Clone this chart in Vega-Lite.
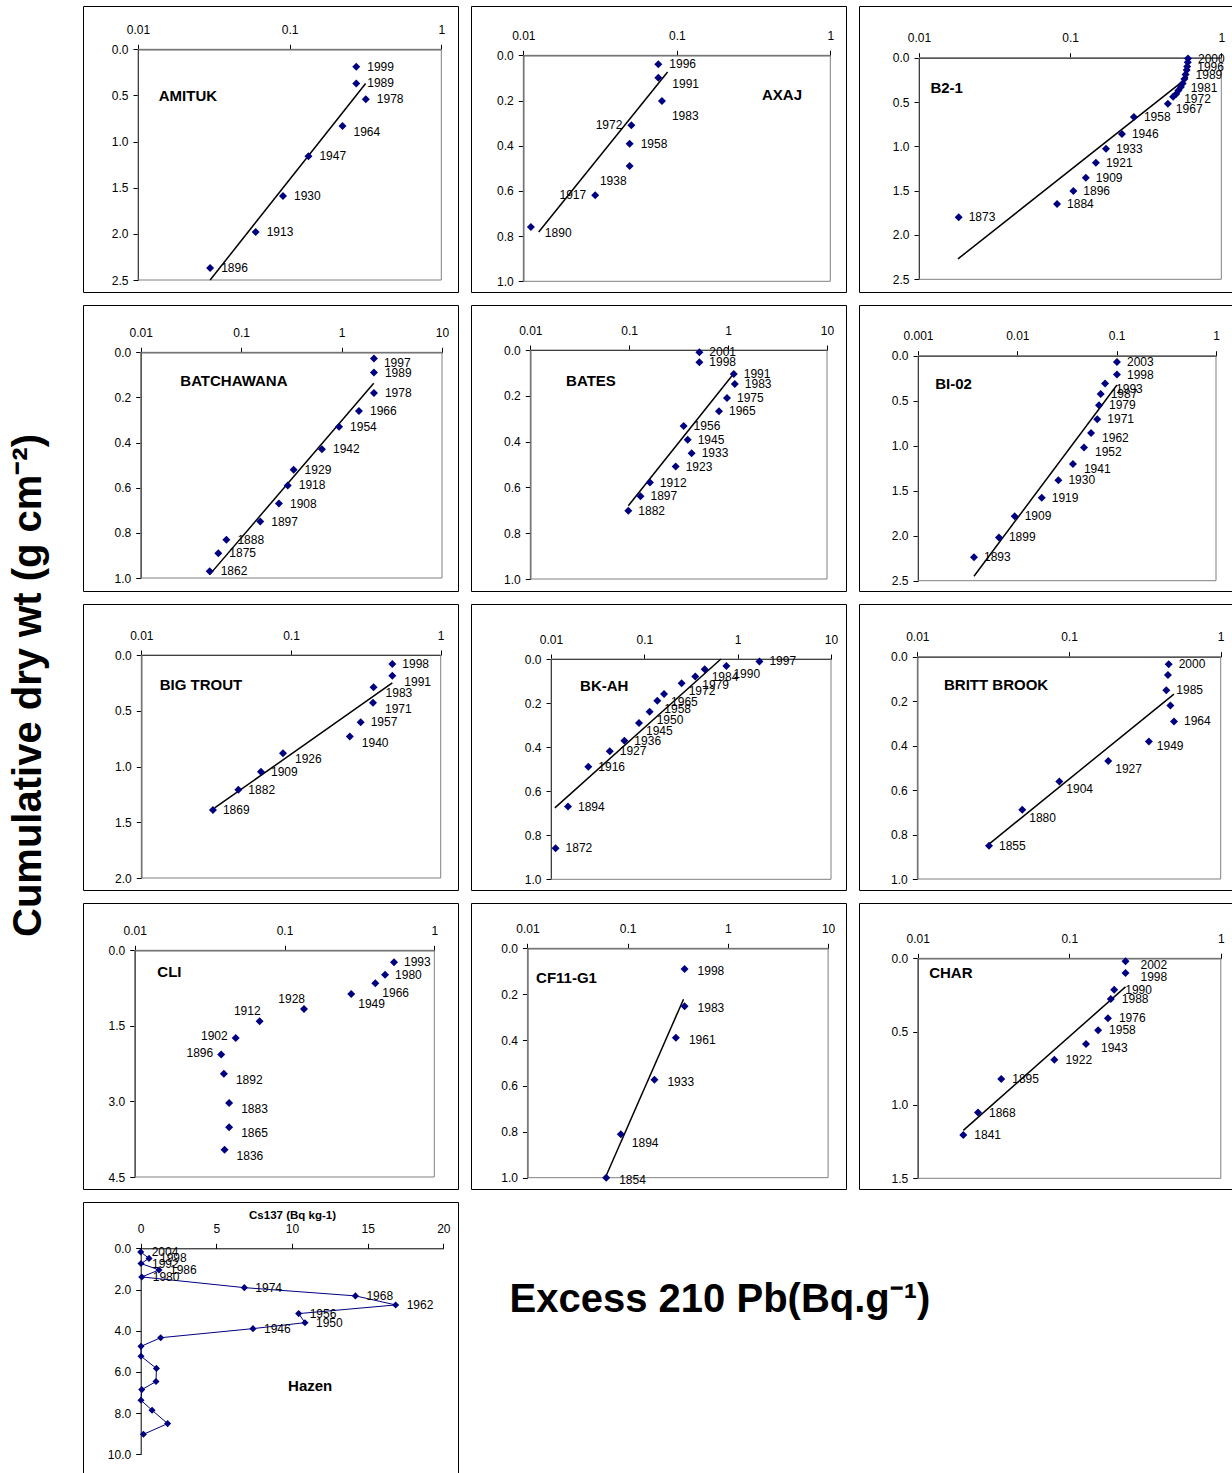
{
  "$schema": "https://vega.github.io/schema/vega-lite/v6.json",
  "padding": {"left": 0, "top": 5, "right": 0, "bottom": 0},
  "background": "white",
  "spacing": 24,
  "config": {
    "font": "Liberation Sans",
    "view": {"stroke": "#000000", "strokeWidth": 1},
    "axis": {
      "grid": false, "zindex": 1, "labelFont": "Liberation Sans", "labelFontSize": 12, "labelColor": "#000000",
      "domainColor": "#000000", "domainWidth": 1, "tickColor": "#000000", "tickSize": 5,
      "labelFlush": false, "labelOverlap": false, "titleColor": "#000000", "titleFont": "Liberation Sans"
    },
    "axisX": {"format": "~g", "labelPadding": 8},
    "axisY": {"format": ".1f", "labelPadding": 5}
  },
  "datasets": {
    "pts": [
      {"s": "AMITUK", "yr": "1999", "c": 0.275, "d": 0.19, "p": "r"},
      {"s": "AMITUK", "yr": "1989", "c": 0.275, "d": 0.37, "p": "r"},
      {"s": "AMITUK", "yr": "1978", "c": 0.318, "d": 0.54, "p": "r"},
      {"s": "AMITUK", "yr": "1964", "c": 0.223, "d": 0.83, "p": "rb"},
      {"s": "AMITUK", "yr": "1947", "c": 0.133, "d": 1.16, "p": "r"},
      {"s": "AMITUK", "yr": "1930", "c": 0.0904, "d": 1.59, "p": "r"},
      {"s": "AMITUK", "yr": "1913", "c": 0.0597, "d": 1.98, "p": "r"},
      {"s": "AMITUK", "yr": "1896", "c": 0.0299, "d": 2.37, "p": "r"},

      {"s": "AXAJ", "yr": "1996", "c": 0.0758, "d": 0.04, "p": "r"},
      {"s": "AXAJ", "yr": "1991", "c": 0.0758, "d": 0.099, "p": "rb"},
      {"s": "AXAJ", "yr": "1983", "c": 0.08, "d": 0.202, "p": "b"},
      {"s": "AXAJ", "yr": "1972", "c": 0.0506, "d": 0.31, "p": "l"},
      {"s": "AXAJ", "yr": "1958", "c": 0.0493, "d": 0.391, "p": "r"},
      {"s": "AXAJ", "yr": "1938", "c": 0.0493, "d": 0.49, "p": "bl"},
      {"s": "AXAJ", "yr": "1917", "c": 0.0294, "d": 0.619, "p": "l"},
      {"s": "AXAJ", "yr": "1890", "c": 0.0112, "d": 0.76, "p": "rb"},

      {"s": "B2-1", "yr": "2000", "c": 0.602, "d": 0.01, "p": "r"},
      {"s": "B2-1", "yr": "", "c": 0.6, "d": 0.05, "p": "r"},
      {"s": "B2-1", "yr": "1996", "c": 0.595, "d": 0.1, "p": "r"},
      {"s": "B2-1", "yr": "", "c": 0.59, "d": 0.14, "p": "r"},
      {"s": "B2-1", "yr": "1989", "c": 0.58, "d": 0.19, "p": "r"},
      {"s": "B2-1", "yr": "", "c": 0.57, "d": 0.24, "p": "r"},
      {"s": "B2-1", "yr": "1981", "c": 0.555, "d": 0.29, "p": "rb"},
      {"s": "B2-1", "yr": "", "c": 0.54, "d": 0.33, "p": "r"},
      {"s": "B2-1", "yr": "", "c": 0.52, "d": 0.37, "p": "r"},
      {"s": "B2-1", "yr": "1972", "c": 0.503, "d": 0.41, "p": "rb"},
      {"s": "B2-1", "yr": "", "c": 0.48, "d": 0.44, "p": "r"},
      {"s": "B2-1", "yr": "1967", "c": 0.443, "d": 0.52, "p": "rb"},
      {"s": "B2-1", "yr": "1958", "c": 0.264, "d": 0.67, "p": "r"},
      {"s": "B2-1", "yr": "1946", "c": 0.22, "d": 0.86, "p": "r"},
      {"s": "B2-1", "yr": "1933", "c": 0.1726, "d": 1.026, "p": "r"},
      {"s": "B2-1", "yr": "1921", "c": 0.148, "d": 1.184, "p": "r"},
      {"s": "B2-1", "yr": "1909", "c": 0.127, "d": 1.353, "p": "r"},
      {"s": "B2-1", "yr": "1896", "c": 0.105, "d": 1.504, "p": "r"},
      {"s": "B2-1", "yr": "1884", "c": 0.0819, "d": 1.65, "p": "r"},
      {"s": "B2-1", "yr": "1873", "c": 0.0183, "d": 1.8, "p": "r"},

      {"s": "BATCHAWANA", "yr": "1997", "c": 2.1, "d": 0.027, "p": "rb"},
      {"s": "BATCHAWANA", "yr": "1989", "c": 2.1, "d": 0.09, "p": "r"},
      {"s": "BATCHAWANA", "yr": "1978", "c": 2.1, "d": 0.18, "p": "r"},
      {"s": "BATCHAWANA", "yr": "1966", "c": 1.49, "d": 0.26, "p": "r"},
      {"s": "BATCHAWANA", "yr": "1954", "c": 0.944, "d": 0.33, "p": "r"},
      {"s": "BATCHAWANA", "yr": "1942", "c": 0.638, "d": 0.43, "p": "r"},
      {"s": "BATCHAWANA", "yr": "1929", "c": 0.333, "d": 0.52, "p": "r"},
      {"s": "BATCHAWANA", "yr": "1918", "c": 0.291, "d": 0.59, "p": "r"},
      {"s": "BATCHAWANA", "yr": "1908", "c": 0.238, "d": 0.67, "p": "r"},
      {"s": "BATCHAWANA", "yr": "1897", "c": 0.155, "d": 0.75, "p": "r"},
      {"s": "BATCHAWANA", "yr": "1888", "c": 0.0713, "d": 0.83, "p": "r"},
      {"s": "BATCHAWANA", "yr": "1875", "c": 0.0593, "d": 0.89, "p": "r"},
      {"s": "BATCHAWANA", "yr": "1862", "c": 0.0486, "d": 0.97, "p": "r"},

      {"s": "BATES", "yr": "2001", "c": 0.512, "d": 0.01, "p": "r"},
      {"s": "BATES", "yr": "1998", "c": 0.512, "d": 0.054, "p": "r"},
      {"s": "BATES", "yr": "1991", "c": 1.14, "d": 0.105, "p": "r"},
      {"s": "BATES", "yr": "1983", "c": 1.17, "d": 0.148, "p": "r"},
      {"s": "BATES", "yr": "1975", "c": 0.975, "d": 0.21, "p": "r"},
      {"s": "BATES", "yr": "1965", "c": 0.809, "d": 0.268, "p": "r"},
      {"s": "BATES", "yr": "1956", "c": 0.355, "d": 0.332, "p": "r"},
      {"s": "BATES", "yr": "1945", "c": 0.39, "d": 0.392, "p": "r"},
      {"s": "BATES", "yr": "1933", "c": 0.428, "d": 0.451, "p": "r"},
      {"s": "BATES", "yr": "1923", "c": 0.295, "d": 0.509, "p": "r"},
      {"s": "BATES", "yr": "1912", "c": 0.162, "d": 0.579, "p": "r"},
      {"s": "BATES", "yr": "1897", "c": 0.13, "d": 0.639, "p": "r"},
      {"s": "BATES", "yr": "1882", "c": 0.098, "d": 0.702, "p": "r"},

      {"s": "BI-02", "yr": "2003", "c": 0.1007, "d": 0.07, "p": "r"},
      {"s": "BI-02", "yr": "1998", "c": 0.1007, "d": 0.21, "p": "r"},
      {"s": "BI-02", "yr": "1993", "c": 0.0764, "d": 0.31, "p": "rb"},
      {"s": "BI-02", "yr": "1987", "c": 0.069, "d": 0.426, "p": "r"},
      {"s": "BI-02", "yr": "1979", "c": 0.0664, "d": 0.55, "p": "r"},
      {"s": "BI-02", "yr": "1971", "c": 0.0638, "d": 0.707, "p": "r"},
      {"s": "BI-02", "yr": "1962", "c": 0.0552, "d": 0.86, "p": "rb"},
      {"s": "BI-02", "yr": "1952", "c": 0.0469, "d": 1.019, "p": "rb"},
      {"s": "BI-02", "yr": "1941", "c": 0.0363, "d": 1.204, "p": "rb"},
      {"s": "BI-02", "yr": "1930", "c": 0.0259, "d": 1.385, "p": "r"},
      {"s": "BI-02", "yr": "1919", "c": 0.0176, "d": 1.578, "p": "r"},
      {"s": "BI-02", "yr": "1909", "c": 0.0094, "d": 1.785, "p": "r"},
      {"s": "BI-02", "yr": "1899", "c": 0.00653, "d": 2.019, "p": "r"},
      {"s": "BI-02", "yr": "1893", "c": 0.00366, "d": 2.24, "p": "r"},

      {"s": "BIG TROUT", "yr": "1998", "c": 0.475, "d": 0.081, "p": "r"},
      {"s": "BIG TROUT", "yr": "1991", "c": 0.475, "d": 0.185, "p": "rb"},
      {"s": "BIG TROUT", "yr": "1983", "c": 0.356, "d": 0.29, "p": "rb"},
      {"s": "BIG TROUT", "yr": "1971", "c": 0.353, "d": 0.428, "p": "rb"},
      {"s": "BIG TROUT", "yr": "1957", "c": 0.292, "d": 0.604, "p": "r"},
      {"s": "BIG TROUT", "yr": "1940", "c": 0.247, "d": 0.732, "p": "rb"},
      {"s": "BIG TROUT", "yr": "1926", "c": 0.0884, "d": 0.882, "p": "rb"},
      {"s": "BIG TROUT", "yr": "1909", "c": 0.063, "d": 1.046, "p": "r"},
      {"s": "BIG TROUT", "yr": "1882", "c": 0.0445, "d": 1.208, "p": "r"},
      {"s": "BIG TROUT", "yr": "1869", "c": 0.0301, "d": 1.39, "p": "r"},

      {"s": "BK-AH", "yr": "1997", "c": 1.71, "d": 0.011, "p": "r"},
      {"s": "BK-AH", "yr": "1990", "c": 0.757, "d": 0.032, "p": "b"},
      {"s": "BK-AH", "yr": "1984", "c": 0.443, "d": 0.047, "p": "b"},
      {"s": "BK-AH", "yr": "1979", "c": 0.351, "d": 0.08, "p": "b"},
      {"s": "BK-AH", "yr": "1972", "c": 0.251, "d": 0.11, "p": "b"},
      {"s": "BK-AH", "yr": "1965", "c": 0.1626, "d": 0.159, "p": "b"},
      {"s": "BK-AH", "yr": "1958", "c": 0.1377, "d": 0.19, "p": "b"},
      {"s": "BK-AH", "yr": "1950", "c": 0.114, "d": 0.239, "p": "b"},
      {"s": "BK-AH", "yr": "1945", "c": 0.0877, "d": 0.29, "p": "b"},
      {"s": "BK-AH", "yr": "1936", "c": 0.0611, "d": 0.371, "p": "r"},
      {"s": "BK-AH", "yr": "1927", "c": 0.0426, "d": 0.419, "p": "r"},
      {"s": "BK-AH", "yr": "1916", "c": 0.0251, "d": 0.489, "p": "r"},
      {"s": "BK-AH", "yr": "1894", "c": 0.0152, "d": 0.67, "p": "r"},
      {"s": "BK-AH", "yr": "1872", "c": 0.0112, "d": 0.859, "p": "r"},

      {"s": "BRITT BROOK", "yr": "2000", "c": 0.454, "d": 0.034, "p": "r"},
      {"s": "BRITT BROOK", "yr": "", "c": 0.449, "d": 0.082, "p": "r"},
      {"s": "BRITT BROOK", "yr": "1985", "c": 0.438, "d": 0.151, "p": "r"},
      {"s": "BRITT BROOK", "yr": "", "c": 0.466, "d": 0.22, "p": "r"},
      {"s": "BRITT BROOK", "yr": "1964", "c": 0.492, "d": 0.291, "p": "r"},
      {"s": "BRITT BROOK", "yr": "1949", "c": 0.336, "d": 0.382, "p": "rb"},
      {"s": "BRITT BROOK", "yr": "1927", "c": 0.1815, "d": 0.469, "p": "b"},
      {"s": "BRITT BROOK", "yr": "1904", "c": 0.0863, "d": 0.561, "p": "b"},
      {"s": "BRITT BROOK", "yr": "1880", "c": 0.0492, "d": 0.688, "p": "b"},
      {"s": "BRITT BROOK", "yr": "1855", "c": 0.0297, "d": 0.85, "p": "r"},

      {"s": "CLI", "yr": "1993", "c": 0.538, "d": 0.238, "p": "r"},
      {"s": "CLI", "yr": "1980", "c": 0.469, "d": 0.483, "p": "r"},
      {"s": "CLI", "yr": "1966", "c": 0.404, "d": 0.655, "p": "b"},
      {"s": "CLI", "yr": "1949", "c": 0.279, "d": 0.867, "p": "b"},
      {"s": "CLI", "yr": "1928", "c": 0.135, "d": 1.165, "p": "a"},
      {"s": "CLI", "yr": "1912", "c": 0.0682, "d": 1.41, "p": "a"},
      {"s": "CLI", "yr": "1902", "c": 0.0472, "d": 1.74, "p": "l"},
      {"s": "CLI", "yr": "1896", "c": 0.0378, "d": 2.07, "p": "l"},
      {"s": "CLI", "yr": "1892", "c": 0.0394, "d": 2.45, "p": "rb"},
      {"s": "CLI", "yr": "1883", "c": 0.0427, "d": 3.03, "p": "rb"},
      {"s": "CLI", "yr": "1865", "c": 0.0427, "d": 3.51, "p": "rb"},
      {"s": "CLI", "yr": "1836", "c": 0.0398, "d": 3.96, "p": "rb"},

      {"s": "CF11-G1", "yr": "1998", "c": 0.37, "d": 0.09, "p": "r"},
      {"s": "CF11-G1", "yr": "1983", "c": 0.37, "d": 0.253, "p": "r"},
      {"s": "CF11-G1", "yr": "1961", "c": 0.303, "d": 0.39, "p": "r"},
      {"s": "CF11-G1", "yr": "1933", "c": 0.185, "d": 0.573, "p": "r"},
      {"s": "CF11-G1", "yr": "1894", "c": 0.0855, "d": 0.811, "p": "b"},
      {"s": "CF11-G1", "yr": "1854", "c": 0.0611, "d": 1.0, "p": "r"},

      {"s": "CHAR", "yr": "2002", "c": 0.235, "d": 0.02, "p": "rb"},
      {"s": "CHAR", "yr": "1998", "c": 0.235, "d": 0.1, "p": "rb"},
      {"s": "CHAR", "yr": "1990", "c": 0.198, "d": 0.214, "p": "r"},
      {"s": "CHAR", "yr": "1988", "c": 0.188, "d": 0.277, "p": "r"},
      {"s": "CHAR", "yr": "1976", "c": 0.18, "d": 0.409, "p": "r"},
      {"s": "CHAR", "yr": "1958", "c": 0.155, "d": 0.491, "p": "r"},
      {"s": "CHAR", "yr": "1943", "c": 0.129, "d": 0.584, "p": "rb"},
      {"s": "CHAR", "yr": "1922", "c": 0.0798, "d": 0.691, "p": "r"},
      {"s": "CHAR", "yr": "1895", "c": 0.0356, "d": 0.823, "p": "r"},
      {"s": "CHAR", "yr": "1868", "c": 0.025, "d": 1.052, "p": "r"},
      {"s": "CHAR", "yr": "1841", "c": 0.02, "d": 1.205, "p": "r"}
    ],
    "fit": [
      {"s": "AMITUK", "c": 0.317, "d": 0.37}, {"s": "AMITUK", "c": 0.0299, "d": 2.5},
      {"s": "AXAJ", "c": 0.0871, "d": 0.074}, {"s": "AXAJ", "c": 0.0126, "d": 0.782},
      {"s": "B2-1", "c": 0.602, "d": 0.22}, {"s": "B2-1", "c": 0.0181, "d": 2.27},
      {"s": "BATCHAWANA", "c": 2.09, "d": 0.137}, {"s": "BATCHAWANA", "c": 0.0486, "d": 0.985},
      {"s": "BATES", "c": 1.18, "d": 0.095}, {"s": "BATES", "c": 0.098, "d": 0.68},
      {"s": "BI-02", "c": 0.1007, "d": 0.326}, {"s": "BI-02", "c": 0.00366, "d": 2.45},
      {"s": "BIG TROUT", "c": 0.475, "d": 0.251}, {"s": "BIG TROUT", "c": 0.0309, "d": 1.372},
      {"s": "BK-AH", "c": 0.662, "d": 0.0}, {"s": "BK-AH", "c": 0.011, "d": 0.676},
      {"s": "BRITT BROOK", "c": 0.492, "d": 0.168}, {"s": "BRITT BROOK", "c": 0.0297, "d": 0.843},
      {"s": "CF11-G1", "c": 0.361, "d": 0.222}, {"s": "CF11-G1", "c": 0.0598, "d": 1.0},
      {"s": "CHAR", "c": 0.235, "d": 0.195}, {"s": "CHAR", "c": 0.02, "d": 1.173}
    ],
    "cs": [
      {"yr": "2004", "c": 0.0, "d": 0.18},
      {"yr": "1998", "c": 0.55, "d": 0.49},
      {"yr": "1992", "c": 0.02, "d": 0.74},
      {"yr": "1986", "c": 1.21, "d": 1.05},
      {"yr": "1980", "c": 0.07, "d": 1.39},
      {"yr": "1974", "c": 6.85, "d": 1.91},
      {"yr": "1968", "c": 14.19, "d": 2.31},
      {"yr": "1962", "c": 16.85, "d": 2.75},
      {"yr": "1956", "c": 10.44, "d": 3.17},
      {"yr": "1950", "c": 10.86, "d": 3.61},
      {"yr": "1946", "c": 7.42, "d": 3.9},
      {"yr": "", "c": 1.32, "d": 4.34},
      {"yr": "", "c": 0.02, "d": 4.76},
      {"yr": "", "c": 0.02, "d": 5.24},
      {"yr": "", "c": 1.04, "d": 5.83},
      {"yr": "", "c": 1.01, "d": 6.47},
      {"yr": "", "c": 0.07, "d": 6.86},
      {"yr": "", "c": 0.02, "d": 7.38},
      {"yr": "", "c": 0.75, "d": 7.86},
      {"yr": "", "c": 1.78, "d": 8.51},
      {"yr": "", "c": 0.18, "d": 9.03}
    ]
  },
  "hconcat": [
    {
      "width": 58, "height": 1359, "view": {"stroke": null},
      "data": {"values": [{}]},
      "mark": {"type": "text", "text": "Cumulative dry wt (g cm⁻²)", "angle": 270, "fontSize": 40, "fontWeight": "bold", "align": "center", "baseline": "middle"},
      "encoding": {}
    },
    {
      "spacing": 11,
      "vconcat": [
        {
          "spacing": 11,
          "hconcat": [
            {
              "width": 375, "height": 286, "data": {"name": "pts"},
              "transform": [{"filter": "datum.s === 'AMITUK'"}],
              "layer": [
                {"data": {"values": [{}]}, "mark": {"type": "rect", "filled": false, "stroke": "#808080", "strokeWidth": 1},
                 "encoding": {"x": {"datum": 0.01, "type": "quantitative"}, "x2": {"datum": 1}, "y": {"datum": 0, "type": "quantitative"}, "y2": {"datum": 2.5}}},
                {"data": {"name": "fit"}, "transform": [{"filter": "datum.s === 'AMITUK'"}], "mark": {"type": "line", "color": "#000000", "strokeWidth": 1.5},
                 "encoding": {"x": {"field": "c", "type": "quantitative"}, "y": {"field": "d", "type": "quantitative"}}},
                {"mark": {"type": "point", "shape": "diamond", "filled": true, "color": "#000080", "size": 64, "opacity": 1},
                 "encoding": {
                   "x": {"field": "c", "type": "quantitative", "title": null, "scale": {"type": "log", "domain": [0.01, 1], "range": [55, 358.3], "nice": false}, "axis": {"orient": "top", "offset": -43.3, "values": [0.01, 0.1, 1]}},
                   "y": {"field": "d", "type": "quantitative", "title": null, "scale": {"domain": [0, 2.5], "range": [43.3, 274], "nice": false, "zero": false}, "axis": {"orient": "left", "offset": -55, "values": [0, 0.5, 1, 1.5, 2, 2.5]}}}},
                {"transform": [{"filter": "datum.p === 'r'"}], "mark": {"type": "text", "align": "left", "baseline": "middle", "dx": 11, "fontSize": 12},
                 "encoding": {"x": {"field": "c", "type": "quantitative"}, "y": {"field": "d", "type": "quantitative"}, "text": {"field": "yr"}}},
                {"transform": [{"filter": "datum.p === 'rb'"}], "mark": {"type": "text", "align": "left", "baseline": "middle", "dx": 11, "dy": 6, "fontSize": 12},
                 "encoding": {"x": {"field": "c", "type": "quantitative"}, "y": {"field": "d", "type": "quantitative"}, "text": {"field": "yr"}}},
                {"data": {"values": [{}]}, "mark": {"type": "text", "text": "AMITUK", "align": "left", "baseline": "middle", "fontSize": 15, "fontWeight": "bold"},
                 "encoding": {"x": {"datum": 0.0137, "type": "quantitative"}, "y": {"datum": 0.506, "type": "quantitative"}}}
              ]
            },
            {
              "width": 375, "height": 286, "data": {"name": "pts"},
              "transform": [{"filter": "datum.s === 'AXAJ'"}],
              "layer": [
                {"data": {"values": [{}]}, "mark": {"type": "rect", "filled": false, "stroke": "#808080", "strokeWidth": 1},
                 "encoding": {"x": {"datum": 0.01, "type": "quantitative"}, "x2": {"datum": 1}, "y": {"datum": 0, "type": "quantitative"}, "y2": {"datum": 1}}},
                {"data": {"name": "fit"}, "transform": [{"filter": "datum.s === 'AXAJ'"}], "mark": {"type": "line", "color": "#000000", "strokeWidth": 1.5},
                 "encoding": {"x": {"field": "c", "type": "quantitative"}, "y": {"field": "d", "type": "quantitative"}}},
                {"mark": {"type": "point", "shape": "diamond", "filled": true, "color": "#000080", "size": 64, "opacity": 1},
                 "encoding": {
                   "x": {"field": "c", "type": "quantitative", "title": null, "scale": {"type": "log", "domain": [0.01, 1], "range": [52.3, 359.3], "nice": false}, "axis": {"orient": "top", "offset": -49.3, "values": [0.01, 0.1, 1]}},
                   "y": {"field": "d", "type": "quantitative", "title": null, "scale": {"domain": [0, 1], "range": [49.3, 275.3], "nice": false, "zero": false}, "axis": {"orient": "left", "offset": -52.3, "values": [0, 0.2, 0.4, 0.6, 0.8, 1]}}}},
                {"transform": [{"filter": "datum.p === 'r'"}], "mark": {"type": "text", "align": "left", "baseline": "middle", "dx": 11, "fontSize": 12},
                 "encoding": {"x": {"field": "c", "type": "quantitative"}, "y": {"field": "d", "type": "quantitative"}, "text": {"field": "yr"}}},
                {"transform": [{"filter": "datum.p === 'rb'"}], "mark": {"type": "text", "align": "left", "baseline": "middle", "dx": 14, "dy": 6, "fontSize": 12},
                 "encoding": {"x": {"field": "c", "type": "quantitative"}, "y": {"field": "d", "type": "quantitative"}, "text": {"field": "yr"}}},
                {"transform": [{"filter": "datum.p === 'b'"}], "mark": {"type": "text", "align": "left", "baseline": "middle", "dx": 10, "dy": 15, "fontSize": 12},
                 "encoding": {"x": {"field": "c", "type": "quantitative"}, "y": {"field": "d", "type": "quantitative"}, "text": {"field": "yr"}}},
                {"transform": [{"filter": "datum.p === 'l'"}], "mark": {"type": "text", "align": "right", "baseline": "middle", "dx": -9, "fontSize": 12},
                 "encoding": {"x": {"field": "c", "type": "quantitative"}, "y": {"field": "d", "type": "quantitative"}, "text": {"field": "yr"}}},
                {"transform": [{"filter": "datum.p === 'bl'"}], "mark": {"type": "text", "align": "right", "baseline": "middle", "dx": -3, "dy": 15, "fontSize": 12},
                 "encoding": {"x": {"field": "c", "type": "quantitative"}, "y": {"field": "d", "type": "quantitative"}, "text": {"field": "yr"}}},
                {"data": {"values": [{}]}, "mark": {"type": "text", "text": "AXAJ", "align": "left", "baseline": "middle", "fontSize": 15, "fontWeight": "bold"},
                 "encoding": {"x": {"datum": 0.359, "type": "quantitative"}, "y": {"datum": 0.176, "type": "quantitative"}}}
              ]
            },
            {
              "width": 375, "height": 286, "data": {"name": "pts"},
              "transform": [{"filter": "datum.s === 'B2-1'"}],
              "layer": [
                {"data": {"values": [{}]}, "mark": {"type": "rect", "filled": false, "stroke": "#808080", "strokeWidth": 1},
                 "encoding": {"x": {"datum": 0.01, "type": "quantitative"}, "x2": {"datum": 1}, "y": {"datum": 0, "type": "quantitative"}, "y2": {"datum": 2.5}}},
                {"data": {"name": "fit"}, "transform": [{"filter": "datum.s === 'B2-1'"}], "mark": {"type": "line", "color": "#000000", "strokeWidth": 1.5},
                 "encoding": {"x": {"field": "c", "type": "quantitative"}, "y": {"field": "d", "type": "quantitative"}}},
                {"mark": {"type": "point", "shape": "diamond", "filled": true, "color": "#000080", "size": 64, "opacity": 1},
                 "encoding": {
                   "x": {"field": "c", "type": "quantitative", "title": null, "scale": {"type": "log", "domain": [0.01, 1], "range": [60, 362.3], "nice": false}, "axis": {"orient": "top", "offset": -51.7, "values": [0.01, 0.1, 1]}},
                   "y": {"field": "d", "type": "quantitative", "title": null, "scale": {"domain": [0, 2.5], "range": [51.7, 273.3], "nice": false, "zero": false}, "axis": {"orient": "left", "offset": -60, "values": [0, 0.5, 1, 1.5, 2, 2.5]}}}},
                {"transform": [{"filter": "datum.p === 'r'"}], "mark": {"type": "text", "align": "left", "baseline": "middle", "dx": 10, "fontSize": 12},
                 "encoding": {"x": {"field": "c", "type": "quantitative"}, "y": {"field": "d", "type": "quantitative"}, "text": {"field": "yr"}}},
                {"transform": [{"filter": "datum.p === 'rb'"}], "mark": {"type": "text", "align": "left", "baseline": "middle", "dx": 8, "dy": 5, "fontSize": 12},
                 "encoding": {"x": {"field": "c", "type": "quantitative"}, "y": {"field": "d", "type": "quantitative"}, "text": {"field": "yr"}}},
                {"data": {"values": [{}]}, "mark": {"type": "text", "text": "B2-1", "align": "left", "baseline": "middle", "fontSize": 15, "fontWeight": "bold"},
                 "encoding": {"x": {"datum": 0.0119, "type": "quantitative"}, "y": {"datum": 0.34, "type": "quantitative"}}}
              ]
            }
          ]
        },
        {
          "spacing": 11,
          "hconcat": [
            {
              "width": 375, "height": 286, "data": {"name": "pts"},
              "transform": [{"filter": "datum.s === 'BATCHAWANA'"}],
              "layer": [
                {"data": {"values": [{}]}, "mark": {"type": "rect", "filled": false, "stroke": "#808080", "strokeWidth": 1},
                 "encoding": {"x": {"datum": 0.01, "type": "quantitative"}, "x2": {"datum": 10}, "y": {"datum": 0, "type": "quantitative"}, "y2": {"datum": 1}}},
                {"data": {"name": "fit"}, "transform": [{"filter": "datum.s === 'BATCHAWANA'"}], "mark": {"type": "line", "color": "#000000", "strokeWidth": 1.5},
                 "encoding": {"x": {"field": "c", "type": "quantitative"}, "y": {"field": "d", "type": "quantitative"}}},
                {"mark": {"type": "point", "shape": "diamond", "filled": true, "color": "#000080", "size": 64, "opacity": 1},
                 "encoding": {
                   "x": {"field": "c", "type": "quantitative", "title": null, "scale": {"type": "log", "domain": [0.01, 10], "range": [57.7, 359], "nice": false}, "axis": {"orient": "top", "offset": -47.3, "values": [0.01, 0.1, 1, 10]}},
                   "y": {"field": "d", "type": "quantitative", "title": null, "scale": {"domain": [0, 1], "range": [47.3, 273], "nice": false, "zero": false}, "axis": {"orient": "left", "offset": -57.7, "values": [0, 0.2, 0.4, 0.6, 0.8, 1]}}}},
                {"transform": [{"filter": "datum.p === 'r'"}], "mark": {"type": "text", "align": "left", "baseline": "middle", "dx": 11, "fontSize": 12},
                 "encoding": {"x": {"field": "c", "type": "quantitative"}, "y": {"field": "d", "type": "quantitative"}, "text": {"field": "yr"}}},
                {"transform": [{"filter": "datum.p === 'rb'"}], "mark": {"type": "text", "align": "left", "baseline": "middle", "dx": 10, "dy": 5, "fontSize": 12},
                 "encoding": {"x": {"field": "c", "type": "quantitative"}, "y": {"field": "d", "type": "quantitative"}, "text": {"field": "yr"}}},
                {"data": {"values": [{}]}, "mark": {"type": "text", "text": "BATCHAWANA", "align": "left", "baseline": "middle", "fontSize": 15, "fontWeight": "bold"},
                 "encoding": {"x": {"datum": 0.0248, "type": "quantitative"}, "y": {"datum": 0.126, "type": "quantitative"}}}
              ]
            },
            {
              "width": 375, "height": 286, "data": {"name": "pts"},
              "transform": [{"filter": "datum.s === 'BATES'"}],
              "layer": [
                {"data": {"values": [{}]}, "mark": {"type": "rect", "filled": false, "stroke": "#808080", "strokeWidth": 1},
                 "encoding": {"x": {"datum": 0.01, "type": "quantitative"}, "x2": {"datum": 10}, "y": {"datum": 0, "type": "quantitative"}, "y2": {"datum": 1}}},
                {"data": {"name": "fit"}, "transform": [{"filter": "datum.s === 'BATES'"}], "mark": {"type": "line", "color": "#000000", "strokeWidth": 1.5},
                 "encoding": {"x": {"field": "c", "type": "quantitative"}, "y": {"field": "d", "type": "quantitative"}}},
                {"mark": {"type": "point", "shape": "diamond", "filled": true, "color": "#000080", "size": 64, "opacity": 1},
                 "encoding": {
                   "x": {"field": "c", "type": "quantitative", "title": null, "scale": {"type": "log", "domain": [0.01, 10], "range": [59.3, 356], "nice": false}, "axis": {"orient": "top", "offset": -45, "values": [0.01, 0.1, 1, 10]}},
                   "y": {"field": "d", "type": "quantitative", "title": null, "scale": {"domain": [0, 1], "range": [45, 274], "nice": false, "zero": false}, "axis": {"orient": "left", "offset": -59.3, "values": [0, 0.2, 0.4, 0.6, 0.8, 1]}}}},
                {"transform": [{"filter": "datum.p === 'r'"}], "mark": {"type": "text", "align": "left", "baseline": "middle", "dx": 10, "fontSize": 12},
                 "encoding": {"x": {"field": "c", "type": "quantitative"}, "y": {"field": "d", "type": "quantitative"}, "text": {"field": "yr"}}},
                {"data": {"values": [{}]}, "mark": {"type": "text", "text": "BATES", "align": "left", "baseline": "middle", "fontSize": 15, "fontWeight": "bold"},
                 "encoding": {"x": {"datum": 0.023, "type": "quantitative"}, "y": {"datum": 0.134, "type": "quantitative"}}}
              ]
            },
            {
              "width": 375, "height": 286, "data": {"name": "pts"},
              "transform": [{"filter": "datum.s === 'BI-02'"}],
              "layer": [
                {"data": {"values": [{}]}, "mark": {"type": "rect", "filled": false, "stroke": "#808080", "strokeWidth": 1},
                 "encoding": {"x": {"datum": 0.001, "type": "quantitative"}, "x2": {"datum": 1}, "y": {"datum": 0, "type": "quantitative"}, "y2": {"datum": 2.5}}},
                {"data": {"name": "fit"}, "transform": [{"filter": "datum.s === 'BI-02'"}], "mark": {"type": "line", "color": "#000000", "strokeWidth": 1.5},
                 "encoding": {"x": {"field": "c", "type": "quantitative"}, "y": {"field": "d", "type": "quantitative"}}},
                {"mark": {"type": "point", "shape": "diamond", "filled": true, "color": "#000080", "size": 64, "opacity": 1},
                 "encoding": {
                   "x": {"field": "c", "type": "quantitative", "title": null, "scale": {"type": "log", "domain": [0.001, 1], "range": [59, 357], "nice": false}, "axis": {"orient": "top", "offset": -50.7, "values": [0.001, 0.01, 0.1, 1]}},
                   "y": {"field": "d", "type": "quantitative", "title": null, "scale": {"domain": [0, 2.5], "range": [50.7, 275.7], "nice": false, "zero": false}, "axis": {"orient": "left", "offset": -59, "values": [0, 0.5, 1, 1.5, 2, 2.5]}}}},
                {"transform": [{"filter": "datum.p === 'r'"}], "mark": {"type": "text", "align": "left", "baseline": "middle", "dx": 10, "fontSize": 12},
                 "encoding": {"x": {"field": "c", "type": "quantitative"}, "y": {"field": "d", "type": "quantitative"}, "text": {"field": "yr"}}},
                {"transform": [{"filter": "datum.p === 'rb'"}], "mark": {"type": "text", "align": "left", "baseline": "middle", "dx": 11, "dy": 5, "fontSize": 12},
                 "encoding": {"x": {"field": "c", "type": "quantitative"}, "y": {"field": "d", "type": "quantitative"}, "text": {"field": "yr"}}},
                {"data": {"values": [{}]}, "mark": {"type": "text", "text": "BI-02", "align": "left", "baseline": "middle", "fontSize": 15, "fontWeight": "bold"},
                 "encoding": {"x": {"datum": 0.00149, "type": "quantitative"}, "y": {"datum": 0.315, "type": "quantitative"}}}
              ]
            }
          ]
        },
        {
          "spacing": 11,
          "hconcat": [
            {
              "width": 375, "height": 286, "data": {"name": "pts"},
              "transform": [{"filter": "datum.s === 'BIG TROUT'"}],
              "layer": [
                {"data": {"values": [{}]}, "mark": {"type": "rect", "filled": false, "stroke": "#808080", "strokeWidth": 1},
                 "encoding": {"x": {"datum": 0.01, "type": "quantitative"}, "x2": {"datum": 1}, "y": {"datum": 0, "type": "quantitative"}, "y2": {"datum": 2}}},
                {"data": {"name": "fit"}, "transform": [{"filter": "datum.s === 'BIG TROUT'"}], "mark": {"type": "line", "color": "#000000", "strokeWidth": 1.5},
                 "encoding": {"x": {"field": "c", "type": "quantitative"}, "y": {"field": "d", "type": "quantitative"}}},
                {"mark": {"type": "point", "shape": "diamond", "filled": true, "color": "#000080", "size": 64, "opacity": 1},
                 "encoding": {
                   "x": {"field": "c", "type": "quantitative", "title": null, "scale": {"type": "log", "domain": [0.01, 1], "range": [58.3, 357.7], "nice": false}, "axis": {"orient": "top", "offset": -51, "values": [0.01, 0.1, 1]}},
                   "y": {"field": "d", "type": "quantitative", "title": null, "scale": {"domain": [0, 2], "range": [51, 274], "nice": false, "zero": false}, "axis": {"orient": "left", "offset": -58.3, "values": [0, 0.5, 1, 1.5, 2]}}}},
                {"transform": [{"filter": "datum.p === 'r'"}], "mark": {"type": "text", "align": "left", "baseline": "middle", "dx": 10, "fontSize": 12},
                 "encoding": {"x": {"field": "c", "type": "quantitative"}, "y": {"field": "d", "type": "quantitative"}, "text": {"field": "yr"}}},
                {"transform": [{"filter": "datum.p === 'rb'"}], "mark": {"type": "text", "align": "left", "baseline": "middle", "dx": 12, "dy": 6, "fontSize": 12},
                 "encoding": {"x": {"field": "c", "type": "quantitative"}, "y": {"field": "d", "type": "quantitative"}, "text": {"field": "yr"}}},
                {"data": {"values": [{}]}, "mark": {"type": "text", "text": "BIG TROUT", "align": "left", "baseline": "middle", "fontSize": 15, "fontWeight": "bold"},
                 "encoding": {"x": {"datum": 0.01326, "type": "quantitative"}, "y": {"datum": 0.27, "type": "quantitative"}}}
              ]
            },
            {
              "width": 375, "height": 286, "data": {"name": "pts"},
              "transform": [{"filter": "datum.s === 'BK-AH'"}],
              "layer": [
                {"data": {"values": [{}]}, "mark": {"type": "rect", "filled": false, "stroke": "#808080", "strokeWidth": 1},
                 "encoding": {"x": {"datum": 0.01, "type": "quantitative"}, "x2": {"datum": 10}, "y": {"datum": 0, "type": "quantitative"}, "y2": {"datum": 1}}},
                {"data": {"name": "fit"}, "transform": [{"filter": "datum.s === 'BK-AH'"}], "mark": {"type": "line", "color": "#000000", "strokeWidth": 1.5},
                 "encoding": {"x": {"field": "c", "type": "quantitative"}, "y": {"field": "d", "type": "quantitative"}}},
                {"mark": {"type": "point", "shape": "diamond", "filled": true, "color": "#000080", "size": 64, "opacity": 1},
                 "encoding": {
                   "x": {"field": "c", "type": "quantitative", "title": null, "scale": {"type": "log", "domain": [0.01, 10], "range": [80, 360], "nice": false}, "axis": {"orient": "top", "offset": -55, "values": [0.01, 0.1, 1, 10]}},
                   "y": {"field": "d", "type": "quantitative", "title": null, "scale": {"domain": [0, 1], "range": [55, 275.3], "nice": false, "zero": false}, "axis": {"orient": "left", "offset": -80, "values": [0, 0.2, 0.4, 0.6, 0.8, 1]}}}},
                {"transform": [{"filter": "datum.p === 'r'"}], "mark": {"type": "text", "align": "left", "baseline": "middle", "dx": 10, "fontSize": 12},
                 "encoding": {"x": {"field": "c", "type": "quantitative"}, "y": {"field": "d", "type": "quantitative"}, "text": {"field": "yr"}}},
                {"transform": [{"filter": "datum.p === 'b'"}], "mark": {"type": "text", "align": "left", "baseline": "middle", "dx": 7, "dy": 8, "fontSize": 12},
                 "encoding": {"x": {"field": "c", "type": "quantitative"}, "y": {"field": "d", "type": "quantitative"}, "text": {"field": "yr"}}},
                {"data": {"values": [{}]}, "mark": {"type": "text", "text": "BK-AH", "align": "left", "baseline": "middle", "fontSize": 15, "fontWeight": "bold"},
                 "encoding": {"x": {"datum": 0.0205, "type": "quantitative"}, "y": {"datum": 0.121, "type": "quantitative"}}}
              ]
            },
            {
              "width": 375, "height": 286, "data": {"name": "pts"},
              "transform": [{"filter": "datum.s === 'BRITT BROOK'"}],
              "layer": [
                {"data": {"values": [{}]}, "mark": {"type": "rect", "filled": false, "stroke": "#808080", "strokeWidth": 1},
                 "encoding": {"x": {"datum": 0.01, "type": "quantitative"}, "x2": {"datum": 1}, "y": {"datum": 0, "type": "quantitative"}, "y2": {"datum": 1}}},
                {"data": {"name": "fit"}, "transform": [{"filter": "datum.s === 'BRITT BROOK'"}], "mark": {"type": "line", "color": "#000000", "strokeWidth": 1.5},
                 "encoding": {"x": {"field": "c", "type": "quantitative"}, "y": {"field": "d", "type": "quantitative"}}},
                {"mark": {"type": "point", "shape": "diamond", "filled": true, "color": "#000080", "size": 64, "opacity": 1},
                 "encoding": {
                   "x": {"field": "c", "type": "quantitative", "title": null, "scale": {"type": "log", "domain": [0.01, 1], "range": [58.3, 361.7], "nice": false}, "axis": {"orient": "top", "offset": -52.7, "values": [0.01, 0.1, 1]}},
                   "y": {"field": "d", "type": "quantitative", "title": null, "scale": {"domain": [0, 1], "range": [52.7, 275], "nice": false, "zero": false}, "axis": {"orient": "left", "offset": -58.3, "values": [0, 0.2, 0.4, 0.6, 0.8, 1]}}}},
                {"transform": [{"filter": "datum.p === 'r'"}], "mark": {"type": "text", "align": "left", "baseline": "middle", "dx": 10, "fontSize": 12},
                 "encoding": {"x": {"field": "c", "type": "quantitative"}, "y": {"field": "d", "type": "quantitative"}, "text": {"field": "yr"}}},
                {"transform": [{"filter": "datum.p === 'rb'"}], "mark": {"type": "text", "align": "left", "baseline": "middle", "dx": 8, "dy": 4, "fontSize": 12},
                 "encoding": {"x": {"field": "c", "type": "quantitative"}, "y": {"field": "d", "type": "quantitative"}, "text": {"field": "yr"}}},
                {"transform": [{"filter": "datum.p === 'b'"}], "mark": {"type": "text", "align": "left", "baseline": "middle", "dx": 7, "dy": 8, "fontSize": 12},
                 "encoding": {"x": {"field": "c", "type": "quantitative"}, "y": {"field": "d", "type": "quantitative"}, "text": {"field": "yr"}}},
                {"data": {"values": [{}]}, "mark": {"type": "text", "text": "BRITT BROOK", "align": "left", "baseline": "middle", "fontSize": 15, "fontWeight": "bold"},
                 "encoding": {"x": {"datum": 0.015, "type": "quantitative"}, "y": {"datum": 0.126, "type": "quantitative"}}}
              ]
            }
          ]
        },
        {
          "spacing": 11,
          "hconcat": [
            {
              "width": 375, "height": 286, "data": {"name": "pts"},
              "transform": [{"filter": "datum.s === 'CLI'"}],
              "layer": [
                {"data": {"values": [{}]}, "mark": {"type": "rect", "filled": false, "stroke": "#808080", "strokeWidth": 1},
                 "encoding": {"x": {"datum": 0.01, "type": "quantitative"}, "x2": {"datum": 1}, "y": {"datum": 0, "type": "quantitative"}, "y2": {"datum": 4.5}}},
                {"mark": {"type": "point", "shape": "diamond", "filled": true, "color": "#000080", "size": 64, "opacity": 1},
                 "encoding": {
                   "x": {"field": "c", "type": "quantitative", "title": null, "scale": {"type": "log", "domain": [0.01, 1], "range": [51.7, 351.3], "nice": false}, "axis": {"orient": "top", "offset": -47.3, "values": [0.01, 0.1, 1]}},
                   "y": {"field": "d", "type": "quantitative", "title": null, "scale": {"domain": [0, 4.5], "range": [47.3, 274], "nice": false, "zero": false}, "axis": {"orient": "left", "offset": -51.7, "values": [0, 1.5, 3, 4.5]}}}},
                {"transform": [{"filter": "datum.p === 'r'"}], "mark": {"type": "text", "align": "left", "baseline": "middle", "dx": 10, "fontSize": 12},
                 "encoding": {"x": {"field": "c", "type": "quantitative"}, "y": {"field": "d", "type": "quantitative"}, "text": {"field": "yr"}}},
                {"transform": [{"filter": "datum.p === 'rb'"}], "mark": {"type": "text", "align": "left", "baseline": "middle", "dx": 12, "dy": 6, "fontSize": 12},
                 "encoding": {"x": {"field": "c", "type": "quantitative"}, "y": {"field": "d", "type": "quantitative"}, "text": {"field": "yr"}}},
                {"transform": [{"filter": "datum.p === 'b'"}], "mark": {"type": "text", "align": "left", "baseline": "middle", "dx": 7, "dy": 10, "fontSize": 12},
                 "encoding": {"x": {"field": "c", "type": "quantitative"}, "y": {"field": "d", "type": "quantitative"}, "text": {"field": "yr"}}},
                {"transform": [{"filter": "datum.p === 'l'"}], "mark": {"type": "text", "align": "right", "baseline": "middle", "dx": -8, "dy": -2, "fontSize": 12},
                 "encoding": {"x": {"field": "c", "type": "quantitative"}, "y": {"field": "d", "type": "quantitative"}, "text": {"field": "yr"}}},
                {"transform": [{"filter": "datum.p === 'a'"}], "mark": {"type": "text", "align": "right", "baseline": "middle", "dx": 1, "dy": -10, "fontSize": 12},
                 "encoding": {"x": {"field": "c", "type": "quantitative"}, "y": {"field": "d", "type": "quantitative"}, "text": {"field": "yr"}}},
                {"data": {"values": [{}]}, "mark": {"type": "text", "text": "CLI", "align": "left", "baseline": "middle", "fontSize": 15, "fontWeight": "bold"},
                 "encoding": {"x": {"datum": 0.01416, "type": "quantitative"}, "y": {"datum": 0.437, "type": "quantitative"}}}
              ]
            },
            {
              "width": 375, "height": 286, "data": {"name": "pts"},
              "transform": [{"filter": "datum.s === 'CF11-G1'"}],
              "layer": [
                {"data": {"values": [{}]}, "mark": {"type": "rect", "filled": false, "stroke": "#808080", "strokeWidth": 1},
                 "encoding": {"x": {"datum": 0.01, "type": "quantitative"}, "x2": {"datum": 10}, "y": {"datum": 0, "type": "quantitative"}, "y2": {"datum": 1}}},
                {"data": {"name": "fit"}, "transform": [{"filter": "datum.s === 'CF11-G1'"}], "mark": {"type": "line", "color": "#000000", "strokeWidth": 1.5},
                 "encoding": {"x": {"field": "c", "type": "quantitative"}, "y": {"field": "d", "type": "quantitative"}}},
                {"mark": {"type": "point", "shape": "diamond", "filled": true, "color": "#000080", "size": 64, "opacity": 1},
                 "encoding": {
                   "x": {"field": "c", "type": "quantitative", "title": null, "scale": {"type": "log", "domain": [0.01, 10], "range": [56.4, 357.1], "nice": false}, "axis": {"orient": "top", "offset": -45.3, "values": [0.01, 0.1, 1, 10]}},
                   "y": {"field": "d", "type": "quantitative", "title": null, "scale": {"domain": [0, 1], "range": [45.3, 274.7], "nice": false, "zero": false}, "axis": {"orient": "left", "offset": -56.4, "values": [0, 0.2, 0.4, 0.6, 0.8, 1]}}}},
                {"transform": [{"filter": "datum.p === 'r'"}], "mark": {"type": "text", "align": "left", "baseline": "middle", "dx": 13, "dy": 2, "fontSize": 12},
                 "encoding": {"x": {"field": "c", "type": "quantitative"}, "y": {"field": "d", "type": "quantitative"}, "text": {"field": "yr"}}},
                {"transform": [{"filter": "datum.p === 'b'"}], "mark": {"type": "text", "align": "left", "baseline": "middle", "dx": 11, "dy": 9, "fontSize": 12},
                 "encoding": {"x": {"field": "c", "type": "quantitative"}, "y": {"field": "d", "type": "quantitative"}, "text": {"field": "yr"}}},
                {"data": {"values": [{}]}, "mark": {"type": "text", "text": "CF11-G1", "align": "left", "baseline": "middle", "fontSize": 15, "fontWeight": "bold"},
                 "encoding": {"x": {"datum": 0.0122, "type": "quantitative"}, "y": {"datum": 0.128, "type": "quantitative"}}}
              ]
            },
            {
              "width": 375, "height": 286, "data": {"name": "pts"},
              "transform": [{"filter": "datum.s === 'CHAR'"}],
              "layer": [
                {"data": {"values": [{}]}, "mark": {"type": "rect", "filled": false, "stroke": "#808080", "strokeWidth": 1},
                 "encoding": {"x": {"datum": 0.01, "type": "quantitative"}, "x2": {"datum": 1}, "y": {"datum": 0, "type": "quantitative"}, "y2": {"datum": 1.5}}},
                {"data": {"name": "fit"}, "transform": [{"filter": "datum.s === 'CHAR'"}], "mark": {"type": "line", "color": "#000000", "strokeWidth": 1.5},
                 "encoding": {"x": {"field": "c", "type": "quantitative"}, "y": {"field": "d", "type": "quantitative"}}},
                {"mark": {"type": "point", "shape": "diamond", "filled": true, "color": "#000080", "size": 64, "opacity": 1},
                 "encoding": {
                   "x": {"field": "c", "type": "quantitative", "title": null, "scale": {"type": "log", "domain": [0.01, 1], "range": [58.7, 361.8], "nice": false}, "axis": {"orient": "top", "offset": -55.3, "values": [0.01, 0.1, 1]}},
                   "y": {"field": "d", "type": "quantitative", "title": null, "scale": {"domain": [0, 1.5], "range": [55.3, 275.3], "nice": false, "zero": false}, "axis": {"orient": "left", "offset": -58.7, "values": [0, 0.5, 1, 1.5]}}}},
                {"transform": [{"filter": "datum.p === 'r'"}], "mark": {"type": "text", "align": "left", "baseline": "middle", "dx": 11, "fontSize": 12},
                 "encoding": {"x": {"field": "c", "type": "quantitative"}, "y": {"field": "d", "type": "quantitative"}, "text": {"field": "yr"}}},
                {"transform": [{"filter": "datum.p === 'rb'"}], "mark": {"type": "text", "align": "left", "baseline": "middle", "dx": 15, "dy": 4, "fontSize": 12},
                 "encoding": {"x": {"field": "c", "type": "quantitative"}, "y": {"field": "d", "type": "quantitative"}, "text": {"field": "yr"}}},
                {"data": {"values": [{}]}, "mark": {"type": "text", "text": "CHAR", "align": "left", "baseline": "middle", "fontSize": 15, "fontWeight": "bold"},
                 "encoding": {"x": {"datum": 0.0119, "type": "quantitative"}, "y": {"datum": 0.098, "type": "quantitative"}}}
              ]
            }
          ]
        },
        {
          "spacing": 11,
          "hconcat": [
            {
              "width": 375, "height": 286, "data": {"name": "cs"},
              "layer": [
                {"mark": {"type": "line", "color": "#000080", "strokeWidth": 1},
                 "encoding": {
                   "x": {"field": "c", "type": "quantitative", "title": "Cs137 (Bq kg-1)", "scale": {"domain": [0, 20], "range": [57.7, 360.3], "nice": false, "zero": false}, "axis": {"orient": "top", "offset": -46.3, "values": [0, 5, 10, 15, 20], "titleFontSize": 11.5, "titleFontWeight": "bold", "titlePadding": 2}},
                   "y": {"field": "d", "type": "quantitative", "title": null, "scale": {"domain": [0, 10], "range": [46.3, 252.3], "nice": false, "zero": false}, "axis": {"orient": "left", "offset": -57.7, "values": [0, 2, 4, 6, 8, 10]}},
                   "order": {"field": "d", "type": "quantitative"}}},
                {"mark": {"type": "point", "shape": "diamond", "filled": true, "color": "#000080", "size": 50, "opacity": 1},
                 "encoding": {"x": {"field": "c", "type": "quantitative"}, "y": {"field": "d", "type": "quantitative"}}},
                {"mark": {"type": "text", "align": "left", "baseline": "middle", "dx": 11, "fontSize": 12},
                 "encoding": {"x": {"field": "c", "type": "quantitative"}, "y": {"field": "d", "type": "quantitative"}, "text": {"field": "yr"}}},
                {"data": {"values": [{}]}, "mark": {"type": "text", "text": "Hazen", "align": "left", "baseline": "middle", "fontSize": 15, "fontWeight": "bold"},
                 "encoding": {"x": {"datum": 9.74, "type": "quantitative"}, "y": {"datum": 6.68, "type": "quantitative"}}}
              ]
            },
            {
              "width": 500, "height": 196, "view": {"stroke": null},
              "data": {"values": [{}]},
              "mark": {"type": "text", "text": "Excess 210 Pb(Bq.g⁻¹)", "fontSize": 40, "fontWeight": "bold", "align": "center", "baseline": "middle"},
              "encoding": {}
            }
          ]
        }
      ]
    }
  ]
}
